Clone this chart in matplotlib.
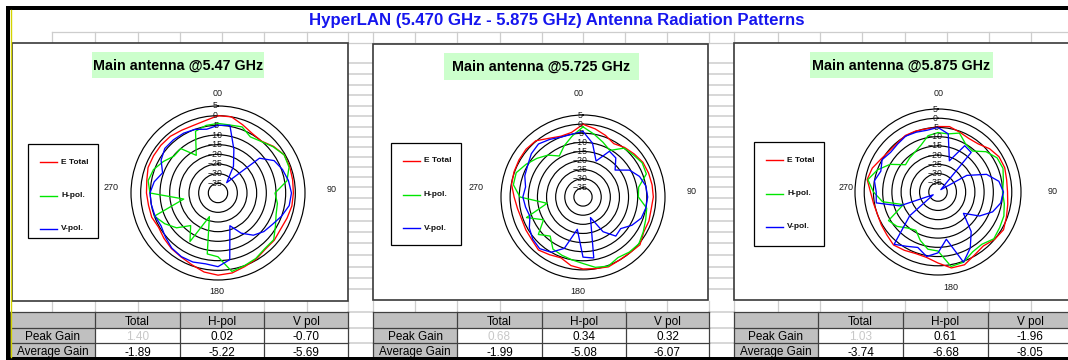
import numpy as np
import matplotlib
matplotlib.use("Agg")
import matplotlib.pyplot as plt
from matplotlib.patches import Rectangle
from matplotlib import font_manager, transforms

W, H, DPI = 1068, 360, 100

# ---------------------------------------------------------------- data
title = "HyperLAN (5.470 GHz - 5.875 GHz) Antenna Radiation Patterns"
panel_titles = ["Main antenna @5.47 GHz", "Main antenna @5.725 GHz", "Main antenna @5.875 GHz"]
series_names = ["E Total", "H-pol.", "V-pol."]
series_colors = ["#ff0000", "#00e600", "#0000ff"]

angles_deg = np.arange(0, 360, 10)

e_total_547 = [0, 0, -2.5, -4.5, -5, -2.5, -0.5, -0.5, -0.8, -1, -1.2, -2, -2.6, -2, -2, -0.5,
               0.5, 2, 2.5, 1.5, -0.5, -1.8, -2.5, -3.5, -4.5, -3.5, -3.5, -3, -2.6, -1.5,
               -1.5, -1.5, -1.7, -2.5, -2.8, -2]
h_pol_547 = [-4, -4.3, -3.6, -6.5, -5.2, -2.8, -0.5, -0.9, -3.8, -10.5, -8.8, -8, -5.7, -2.4, -2.4,
             -0.9, 0, 1.2, -7, -8, -27, -11, -18, -12, -8.2, -5, -22, -4.8, -3.3, -4.5, -7.4,
             -10.3, -10, -17.5, -6, -4.5]
v_pol_547 = [-5, -4.5, -16, -24, -33, -12, -6.5, -4.5, -3, -2, -2.6, -5, -7.5, -9, -11.5, -16,
             -22, -5, -1.9, -2.8, -2, -2, -2.8, -4.5, -6, -5.3, -5, -4.8, -6.5, -9.5, -6, -4.1,
             -4.1, -4.3, -5, -6.5]

e_total_5725 = [-0.1, -2, -4, -6.2, -4.5, -3.3, -2, -1.7, -1.5, -1.4, -2, -1.5, -1.5, 0.8, 0, 0,
                0.8, -0.1, -0.5, -1.8, -4.5, -3.4, -2, -3.4, -3.8, -4.2, -3.5, -2.2, -0.2, 0.3,
                0.6, 0.8, 0.3, -2.8, -4.5, -4]
h_pol_5725 = [-1.5, -5, -8, -10.5, -5, -4, -2.5, -3, -9, -9.6, -4.5, -3.4, -1.8, 0, -0.5, -1.6,
              0.4, -0.8, -3.5, -5, -6, -7, -12, -8, -15, -7, -20, -5.4, -1.2, -1, -4, -7, -10,
              -14, -10, -6]
v_pol_5725 = [-4, -10, -19, -11, -12, -17, -10.5, -7, -5, -4.5, -5, -6, -9, -13, -12, -18, -28,
              -6, -7, -22, -10, -5, -3, -4, -6, -9, -8, -7, -8, -6, -5, -3, -2, -3.5, -5, -5]

e_total_5875 = [-4.5, -4, -5.5, -6.5, -6, -3.5, -1.8, -1.5, -2.2, -2.3, -1.6, -0.5, 1, 0, -1.8,
                -0.5, 2, 1.8, -1.5, -4, -4.5, -3.5, -2.5, -3.8, -4.5, -5, -4.5, -3.4, -1, -2.1,
                -4.3, -5.5, -5.5, -4.6, -4.8, -5.2]
h_pol_5875 = [-7.8, -8, -6, -10, -11, -6, -3, -2.5, -4, -5, -3.5, -2, -1.4, -0.5, -3, -2.5, 0.5,
              1, -8, -8.5, -12, -16, -14.5, -11, -9, -20, -9.5, -5, -1.4, -5, -10, -17, -16, -15,
              -13, -9]
v_pol_5875 = [-5, -8, -22, -11, -12, -38, -22, -12, -6.5, -4.5, -5.5, -8.5, -14, -22, -12, -5,
              0.5, -14, -7, -4.5, -8, -6, -3, -20, -37, -18, -6, -6.5, -5, -7, -5, -6.5, -6, -5,
              -5.5, -6]

patterns = [
    [e_total_547, h_pol_547, v_pol_547],
    [e_total_5725, h_pol_5725, v_pol_5725],
    [e_total_5875, h_pol_5875, v_pol_5875],
]

radial_levels = [5, 0, -5, -10, -15, -20, -25, -30, -35]
r_min = -40
angle_labels = ["00", "90", "180", "270"]

table_columns = ["Total", "H-pol", "V pol"]
table_rows = ["Peak Gain", "Average Gain"]
peak_gain = [[1.40, 0.02, -0.70], [0.68, 0.34, 0.32], [1.03, 0.61, -1.96]]
average_gain = [[-1.89, -5.22, -5.69], [-1.99, -5.08, -6.07], [-3.74, -6.68, -8.05]]

# ---------------------------------------------------------------- fonts
def first_font(*names):
    for n in names:
        try:
            font_manager.findfont(font_manager.FontProperties(family=n), fallback_to_default=False)
            return n
        except Exception:
            pass
    return "DejaVu Sans"

SANS = first_font("Liberation Sans", "Arial", "DejaVu Sans")
NARROW = first_font("Liberation Sans Narrow", "Liberation Sans", "DejaVu Sans")

# ---------------------------------------------------------------- layout (pixels)
panel_boxes = [(12, 43, 348, 301), (373, 44, 708, 300), (734, 43, 1072, 300)]
title_boxes = [(92, 52, 264, 78), (444, 53, 639, 80), (810, 52, 993, 78)]
legend_boxes = [(28, 144, 98, 238), (391, 143, 461, 245), (754, 142, 824, 246)]
legend_offsets = [18, 51.5, 85]
polar_geom = [(218, 193, 87), (583, 197, 82), (938, 192, 83)]
angle_label_pos = [
    [(218, 94), (332, 189), (217, 292), (111, 187)],
    [(579, 94), (692, 191), (578, 292), (476, 187)],
    [(939, 94), (1053, 192), (951, 288), (846, 187)],
]
table_x = [[10, 95, 180, 264, 348], [373, 457, 542, 626, 709], [734, 818, 903, 988, 1072]]
table_y = [312, 328, 343, 358]
cell_cols = [52, 95, 138, 180, 222, 264, 307, 348, 373, 415, 457, 500, 542, 583, 625, 667,
             709, 734, 778, 820, 862, 905, 947, 989, 1031]
gap_rows = [63, 74, 85, 95, 106, 116, 127, 137, 147, 157, 167, 177, 187, 198, 209, 221, 232,
            243, 255, 267, 278, 289]
gaps = [(348, 373), (709, 734)]

GRID = "#cdcdcd"
EDGE = "#3a3a3a"

fig = plt.figure(figsize=(W / DPI, H / DPI), dpi=DPI)
fig.patch.set_facecolor("white")
bg = fig.add_axes([0, 0, 1, 1])
bg.set_xlim(0, W)
bg.set_ylim(H, 0)
bg.axis("off")

# spreadsheet cell grid
bg.plot([52, W], [32, 32], color=GRID, lw=0.9, zorder=1)
bg.plot([52, W], [43, 43], color=GRID, lw=0.9, zorder=1)
for x in cell_cols:
    bg.plot([x, x], [32, 43], color=GRID, lw=0.9, zorder=1)
    bg.plot([x, x], [301, 312], color=GRID, lw=0.9, zorder=1)
for x0, x1 in gaps:
    for y in gap_rows + [312, 328, 343]:
        bg.plot([x0, x1], [y, y], color=GRID, lw=1.1, zorder=1)

# chart panels
for (x0, y0, x1, y1) in panel_boxes:
    bg.add_patch(Rectangle((x0, y0), x1 - x0, y1 - y0, facecolor="white",
                           edgecolor=EDGE, lw=1.2, zorder=2))

# main heading
t = bg.text(557, 21, title, ha="center", va="center", color="#1616ee",
            fontweight="bold", family=NARROW, fontsize=11, zorder=5)
renderer = fig.canvas.get_renderer()
t.set_fontsize(11 * 495 / t.get_window_extent(renderer).width)

# panel headings
head_fs = None
for (x0, y0, x1, y1), txt in zip(title_boxes, panel_titles):
    bg.add_patch(Rectangle((x0, y0), x1 - x0, y1 - y0, facecolor="#ccffcc",
                           edgecolor="none", zorder=3))
    ht = bg.text((x0 + x1) / 2, (y0 + y1) / 2 + 0.5, txt, ha="center", va="center",
                 fontweight="bold", family=SANS, fontsize=10, color="black", zorder=4)
    if head_fs is None:
        head_fs = 10 * 169 / ht.get_window_extent(renderer).width
    ht.set_fontsize(head_fs)

# legends
for (x0, y0, x1, y1) in legend_boxes:
    bg.add_patch(Rectangle((x0, y0), x1 - x0, y1 - y0, facecolor="white",
                           edgecolor="black", lw=0.9, zorder=3))
    for name, col, off in zip(series_names, series_colors, legend_offsets):
        bg.plot([x0 + 12, x0 + 29], [y0 + off, y0 + off], color=col, lw=1.0, zorder=4)
        bg.text(x0 + 33, y0 + off, name, ha="left", va="center", fontsize=6,
                fontweight="bold", family=SANS, color="#111111", zorder=4)

# compass labels
for pos in angle_label_pos:
    for (x, y), lab in zip(pos, angle_labels):
        bg.text(x, y, lab, ha="center", va="center", fontsize=6.5, family=SANS,
                color="#1a1a1a", zorder=4)

# polar radiation patterns
theta = np.deg2rad(np.append(angles_deg, 360))
for (cx, cy, r), traces in zip(polar_geom, patterns):
    ax = fig.add_axes([(cx - r) / W, 1 - (cy + r) / H, 2 * r / W, 2 * r / H],
                      projection="polar", zorder=5)
    ax.set_theta_zero_location("N")
    ax.set_theta_direction(-1)
    ax.set_ylim(r_min, radial_levels[0])
    ax.set_xticks([])
    ax.set_yticks(radial_levels[1:])
    ax.set_yticklabels([])
    ax.yaxis.grid(True, color="black", lw=0.85)
    ax.spines["polar"].set_color("black")
    ax.spines["polar"].set_linewidth(0.85)
    ax.patch.set_alpha(0)
    for vals, col in zip(traces, series_colors):
        rr = np.append(vals, vals[0])
        ax.plot(theta, rr, color=col, lw=0.95)
    off = transforms.offset_copy(ax.transData, fig=fig, x=-3, y=0, units="dots")
    for lv in radial_levels:
        ax.text(0, lv, f"{lv}".replace("-", "\u2212"), transform=off, ha="center",
                va="center", fontsize=6.3, family=SANS, color="#1a1a1a", clip_on=False)

# gain tables
for p, xs in enumerate(table_x):
    y0, y1, y2, y3 = table_y
    # header row and row labels are shaded
    bg.add_patch(Rectangle((xs[0], y0), xs[-1] - xs[0], y1 - y0, facecolor="#c0c0c0",
                           edgecolor="none", zorder=2))
    bg.add_patch(Rectangle((xs[0], y1), xs[1] - xs[0], y3 - y1, facecolor="#c0c0c0",
                           edgecolor="none", zorder=2))
    bg.add_patch(Rectangle((xs[1], y1), xs[-1] - xs[1], y3 - y1, facecolor="white",
                           edgecolor="none", zorder=2))
    for y in table_y:
        bg.plot([xs[0], xs[-1]], [y, y], color="#404040", lw=0.9, zorder=3)
    for x in xs:
        bg.plot([x, x], [y0, y3], color="#404040", lw=0.9, zorder=3)
    for j, lab in enumerate(table_columns):
        bg.text((xs[j + 1] + xs[j + 2]) / 2, 322, lab, ha="center", va="center",
                fontsize=8.5, family=SANS, color="black", zorder=4)
    row_vals = [peak_gain[p], average_gain[p]]
    for i, (lab, yc) in enumerate(zip(table_rows, [337, 352.5])):
        bg.text((xs[0] + xs[1]) / 2, yc, lab, ha="center", va="center",
                fontsize=8.5, family=SANS, color="black", zorder=4)
        for j, v in enumerate(row_vals[i]):
            col = "#c8c8c8" if (i == 0 and j == 0) else "black"
            bg.text((xs[j + 1] + xs[j + 2]) / 2, yc, f"{v:.2f}", ha="center", va="center",
                    fontsize=8.5, family=SANS, color=col, zorder=4)

# window frame
bg.add_patch(Rectangle((6, 6), W, 3.5, facecolor="black", edgecolor="none", zorder=8))
bg.add_patch(Rectangle((6, 357), W, 4, facecolor="black", edgecolor="none", zorder=8))
bg.add_patch(Rectangle((6, 6), 4, H, facecolor="black", edgecolor="none", zorder=8))
bg.plot([10.8, 10.8], [9.5, 357], color="#d4d400", lw=1.0, zorder=8)

fig.savefig("out.png", dpi=DPI, facecolor="white")
